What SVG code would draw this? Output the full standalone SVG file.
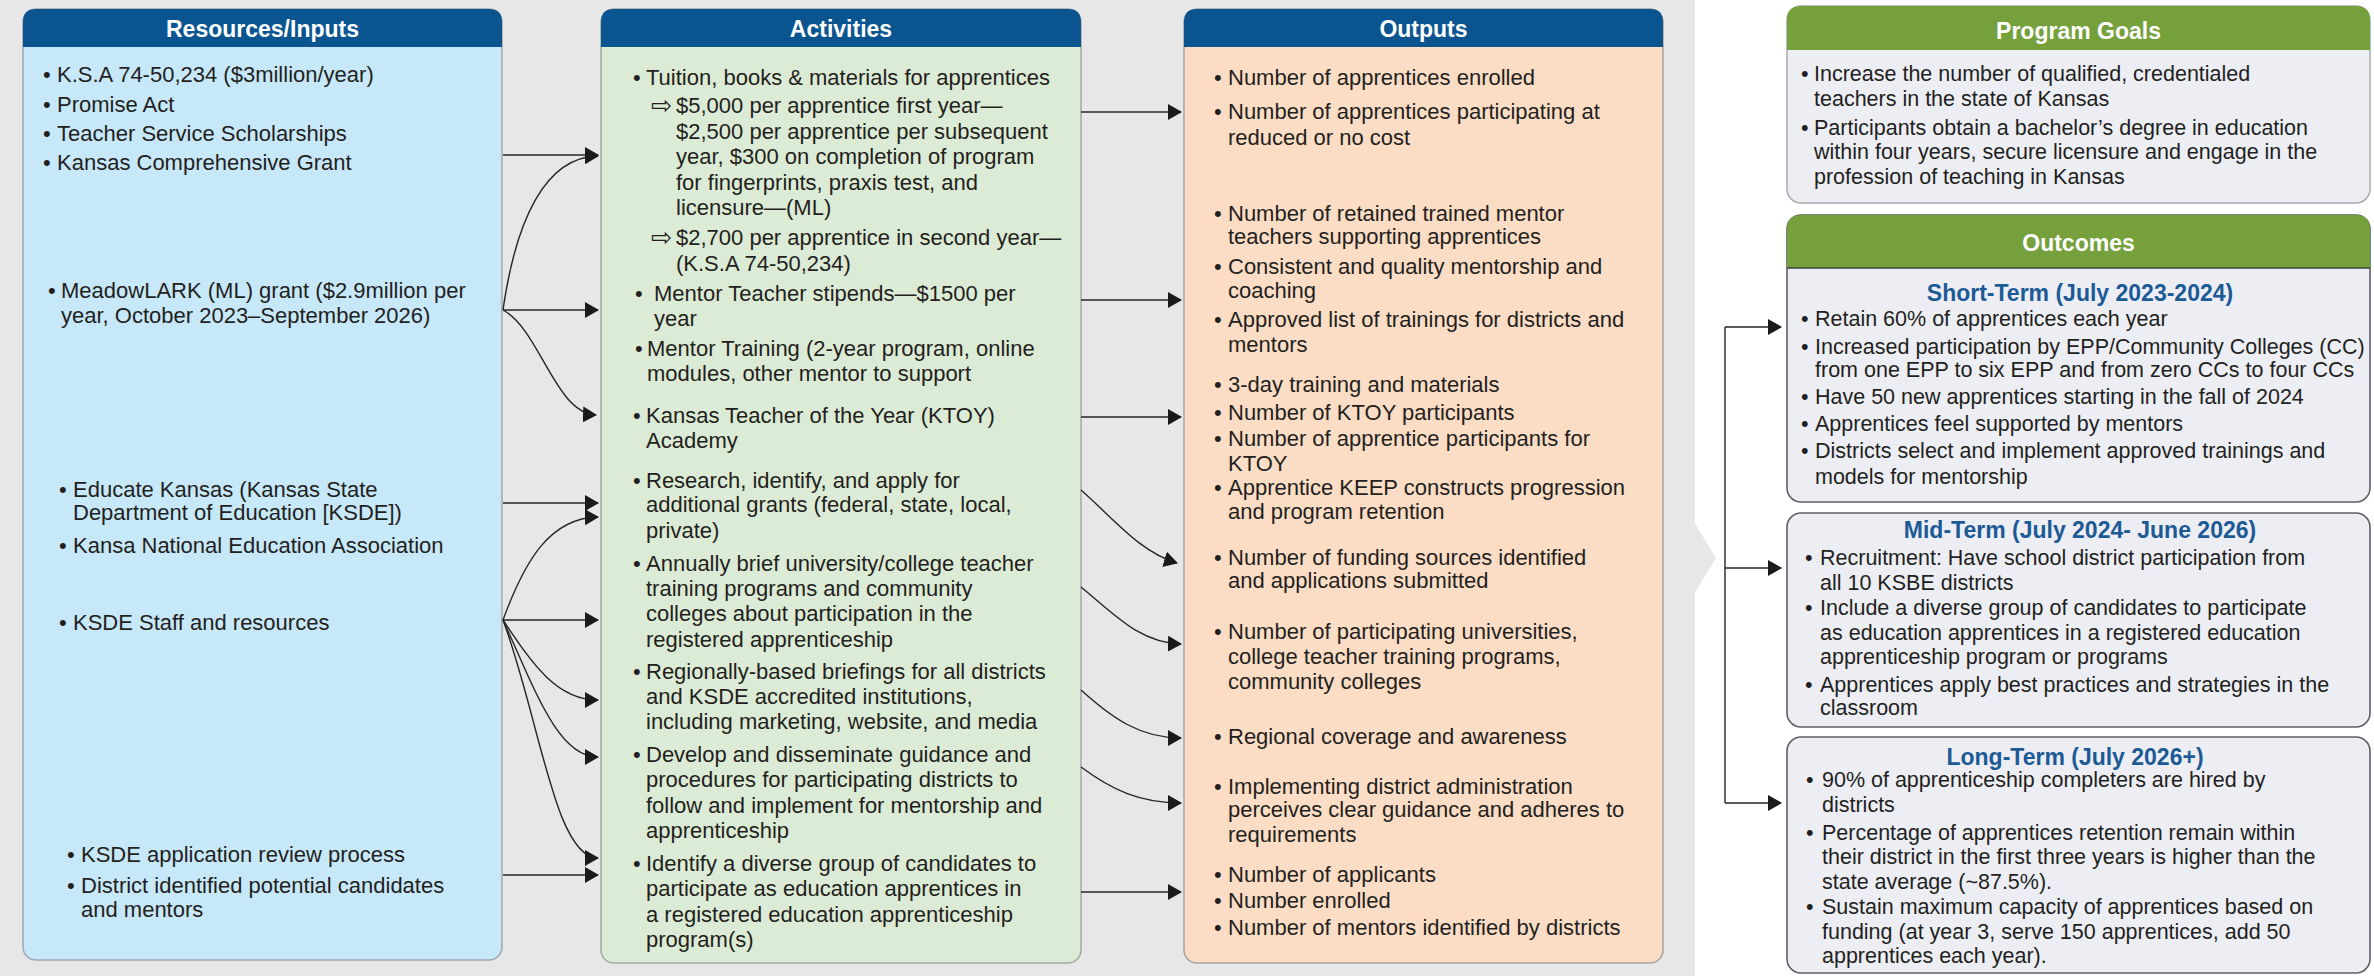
<svg xmlns="http://www.w3.org/2000/svg" width="2374" height="976" viewBox="0 0 2374 976">
  <defs>
    <marker id="ah" viewBox="0 0 14 16" refX="13" refY="8" markerWidth="14" markerHeight="16" markerUnits="userSpaceOnUse" orient="auto">
      <path d="M0,0 L14,8 L0,16 z" fill="#1a1a1a"/>
    </marker>
    <style>
      .t { font-family: "Liberation Sans", Arial, sans-serif; font-size: 22px; fill: #231f20; }
      .r { font-family: "Liberation Sans", Arial, sans-serif; font-size: 21.5px; fill: #231f20; }
      .hd { font-family: "Liberation Sans", Arial, sans-serif; font-size: 23px; font-weight: bold; fill: #ffffff; text-anchor: middle; }
      .sub { font-family: "Liberation Sans", Arial, sans-serif; font-size: 23px; font-weight: bold; fill: #1c5a96; text-anchor: middle; }
      .arr { font-family: "DejaVu Sans", sans-serif; font-size: 25px; fill: #231f20; }
      .blue { fill: #0a5590; }
      .green { fill: #76a03b; }
      .edge { fill: none; stroke: #262626; stroke-width: 1.4; }
      .arrowed { marker-end: url(#ah); }
    </style>
  </defs>

  <!-- backdrop panel behind the first three columns -->
  <rect x="0" y="0" width="2374" height="976" fill="#ffffff"/>
  <rect x="0" y="0" width="1695" height="976" fill="#e7e7e7"/>
  <polygon points="1694,522 1716,558 1694,594" fill="#e7e7e7"/>

  <!-- Resources / Inputs -->
  <g id="resources">
    <rect x="23" y="9" width="479" height="951" rx="13" fill="#c6e8f9" stroke="#9fa8ae" stroke-width="1.5"/>
    <path d="M23,47 V22 Q23,9 36,9 H489 Q502,9 502,22 V47 z" class="blue"/>
    <text x="262.5" y="37" class="hd">Resources/Inputs</text>
    <text class="t">
      <tspan x="43" y="82">•</tspan><tspan x="57" y="82">K.S.A 74-50,234 ($3million/year)</tspan>
      <tspan x="43" y="112">•</tspan><tspan x="57" y="112">Promise Act</tspan>
      <tspan x="43" y="141">•</tspan><tspan x="57" y="141">Teacher Service Scholarships</tspan>
      <tspan x="43" y="170">•</tspan><tspan x="57" y="170">Kansas Comprehensive Grant</tspan>
      <tspan x="48" y="298">•</tspan><tspan x="61" y="298">MeadowLARK (ML) grant ($2.9million per</tspan>
      <tspan x="61" y="323">year, October 2023–September 2026)</tspan>
      <tspan x="59" y="497">•</tspan><tspan x="73" y="497">Educate Kansas (Kansas State</tspan>
      <tspan x="73" y="520">Department of Education [KSDE])</tspan>
      <tspan x="59" y="553">•</tspan><tspan x="73" y="553">Kansa National Education Association</tspan>
      <tspan x="59" y="630">•</tspan><tspan x="73" y="630">KSDE Staff and resources</tspan>
      <tspan x="67" y="862">•</tspan><tspan x="81" y="862">KSDE application review process</tspan>
      <tspan x="67" y="893">•</tspan><tspan x="81" y="893">District identified potential candidates</tspan>
      <tspan x="81" y="917">and mentors</tspan>
    </text>
  </g>

  <!-- Activities -->
  <g id="activities">
    <rect x="601" y="9" width="480" height="954" rx="13" fill="#dcebd5" stroke="#a3aca0" stroke-width="1.5"/>
    <path d="M601,47 V22 Q601,9 614,9 H1068 Q1081,9 1081,22 V47 z" class="blue"/>
    <text x="841" y="37" class="hd">Activities</text>
    <text class="t">
      <tspan x="633" y="85">•</tspan><tspan x="646" y="85">Tuition, books &amp; materials for apprentices</tspan>
      <tspan x="676" y="113">$5,000 per apprentice first year—</tspan>
      <tspan x="676" y="139">$2,500 per apprentice per subsequent</tspan>
      <tspan x="676" y="164">year, $300 on completion of program</tspan>
      <tspan x="676" y="190">for fingerprints, praxis test, and</tspan>
      <tspan x="676" y="215">licensure—(ML)</tspan>
      <tspan x="676" y="245">$2,700 per apprentice in second year—</tspan>
      <tspan x="676" y="271">(K.S.A 74-50,234)</tspan>
      <tspan x="635" y="301">•</tspan><tspan x="654" y="301">Mentor Teacher stipends—$1500 per</tspan>
      <tspan x="654" y="326">year</tspan>
      <tspan x="635" y="356">•</tspan><tspan x="647" y="356">Mentor Training (2-year program, online</tspan>
      <tspan x="647" y="381">modules, other mentor to support</tspan>
      <tspan x="633" y="423">•</tspan><tspan x="646" y="423">Kansas Teacher of the Year (KTOY)</tspan>
      <tspan x="646" y="448">Academy</tspan>
      <tspan x="633" y="488">•</tspan><tspan x="646" y="488">Research, identify, and apply for</tspan>
      <tspan x="646" y="512">additional grants (federal, state, local,</tspan>
      <tspan x="646" y="538">private)</tspan>
      <tspan x="633" y="571">•</tspan><tspan x="646" y="571">Annually brief university/college teacher</tspan>
      <tspan x="646" y="596">training programs and community</tspan>
      <tspan x="646" y="621">colleges about participation in the</tspan>
      <tspan x="646" y="647">registered apprenticeship</tspan>
      <tspan x="633" y="679">•</tspan><tspan x="646" y="679">Regionally-based briefings for all districts</tspan>
      <tspan x="646" y="704">and KSDE accredited institutions,</tspan>
      <tspan x="646" y="729">including marketing, website, and media</tspan>
      <tspan x="633" y="762">•</tspan><tspan x="646" y="762">Develop and disseminate guidance and</tspan>
      <tspan x="646" y="787">procedures for participating districts to</tspan>
      <tspan x="646" y="813">follow and implement for mentorship and</tspan>
      <tspan x="646" y="838">apprenticeship</tspan>
      <tspan x="633" y="871">•</tspan><tspan x="646" y="871">Identify a diverse group of candidates to</tspan>
      <tspan x="646" y="896">participate as education apprentices in</tspan>
      <tspan x="646" y="922">a registered education apprenticeship</tspan>
      <tspan x="646" y="947">program(s)</tspan>
    </text>
    <text class="arr">
      <tspan x="651" y="114">⇨</tspan>
      <tspan x="651" y="246">⇨</tspan>
    </text>
  </g>

  <!-- Outputs -->
  <g id="outputs">
    <rect x="1184" y="9" width="479" height="954" rx="13" fill="#fbdcc4" stroke="#aaa39d" stroke-width="1.5"/>
    <path d="M1184,47 V22 Q1184,9 1197,9 H1650 Q1663,9 1663,22 V47 z" class="blue"/>
    <text x="1423.5" y="37" class="hd">Outputs</text>
    <text class="t">
      <tspan x="1214" y="85">•</tspan><tspan x="1228" y="85">Number of apprentices enrolled</tspan>
      <tspan x="1214" y="119">•</tspan><tspan x="1228" y="119">Number of apprentices participating at</tspan>
      <tspan x="1228" y="145">reduced or no cost</tspan>
      <tspan x="1214" y="221">•</tspan><tspan x="1228" y="221">Number of retained trained mentor</tspan>
      <tspan x="1228" y="244">teachers supporting apprentices</tspan>
      <tspan x="1214" y="274">•</tspan><tspan x="1228" y="274">Consistent and quality mentorship and</tspan>
      <tspan x="1228" y="298">coaching</tspan>
      <tspan x="1214" y="327">•</tspan><tspan x="1228" y="327">Approved list of trainings for districts and</tspan>
      <tspan x="1228" y="352">mentors</tspan>
      <tspan x="1214" y="392">•</tspan><tspan x="1228" y="392">3-day training and materials</tspan>
      <tspan x="1214" y="420">•</tspan><tspan x="1228" y="420">Number of KTOY participants</tspan>
      <tspan x="1214" y="446">•</tspan><tspan x="1228" y="446">Number of apprentice participants for</tspan>
      <tspan x="1228" y="471">KTOY</tspan>
      <tspan x="1214" y="495">•</tspan><tspan x="1228" y="495">Apprentice KEEP constructs progression</tspan>
      <tspan x="1228" y="519">and program retention</tspan>
      <tspan x="1214" y="565">•</tspan><tspan x="1228" y="565">Number of funding sources identified</tspan>
      <tspan x="1228" y="588">and applications submitted</tspan>
      <tspan x="1214" y="639">•</tspan><tspan x="1228" y="639">Number of participating universities,</tspan>
      <tspan x="1228" y="664">college teacher training programs,</tspan>
      <tspan x="1228" y="689">community colleges</tspan>
      <tspan x="1214" y="744">•</tspan><tspan x="1228" y="744">Regional coverage and awareness</tspan>
      <tspan x="1214" y="794">•</tspan><tspan x="1228" y="794">Implementing district administration</tspan>
      <tspan x="1228" y="817">perceives clear guidance and adheres to</tspan>
      <tspan x="1228" y="842">requirements</tspan>
      <tspan x="1214" y="882">•</tspan><tspan x="1228" y="882">Number of applicants</tspan>
      <tspan x="1214" y="908">•</tspan><tspan x="1228" y="908">Number enrolled</tspan>
      <tspan x="1214" y="935">•</tspan><tspan x="1228" y="935">Number of mentors identified by districts</tspan>
    </text>
  </g>

  <!-- Program Goals -->
  <g id="program-goals">
    <rect x="1787" y="6" width="583" height="197" rx="14" fill="#eceef4" stroke="#a9abb0" stroke-width="1.5"/>
    <path d="M1787,50 V20 Q1787,6 1801,6 H2356 Q2370,6 2370,20 V50 z" class="green"/>
    <text x="2078.5" y="39" class="hd">Program Goals</text>
    <text class="r">
      <tspan x="1801" y="81">•</tspan><tspan x="1814" y="81">Increase the number of qualified, credentialed</tspan>
      <tspan x="1814" y="106">teachers in the state of Kansas</tspan>
      <tspan x="1801" y="135">•</tspan><tspan x="1814" y="135">Participants obtain a bachelor’s degree in education</tspan>
      <tspan x="1814" y="159">within four years, secure licensure and engage in the</tspan>
      <tspan x="1814" y="184">profession of teaching in Kansas</tspan>
    </text>
  </g>

  <!-- Outcomes header and short-term block -->
  <g id="outcomes-short">
    <rect x="1787" y="215" width="583" height="287" rx="14" fill="#eceef4" stroke="#5e6066" stroke-width="1.6"/>
    <path d="M1787,268 V229 Q1787,215 1801,215 H2356 Q2370,215 2370,229 V268 z" class="green"/>
    <line x1="1787" y1="268" x2="2370" y2="268" stroke="#3c3c3c" stroke-width="1.6"/>
    <text x="2078.5" y="251" class="hd">Outcomes</text>
    <text x="2080" y="301" class="sub">Short-Term (July 2023-2024)</text>
    <text class="r">
      <tspan x="1801" y="326">•</tspan><tspan x="1815" y="326">Retain 60% of apprentices each year</tspan>
      <tspan x="1801" y="354">•</tspan><tspan x="1815" y="354">Increased participation by EPP/Community Colleges (CC)</tspan>
      <tspan x="1815" y="377">from one EPP to six EPP and from zero CCs to four CCs</tspan>
      <tspan x="1801" y="404">•</tspan><tspan x="1815" y="404">Have 50 new apprentices starting in the fall of 2024</tspan>
      <tspan x="1801" y="431">•</tspan><tspan x="1815" y="431">Apprentices feel supported by mentors</tspan>
      <tspan x="1801" y="458">•</tspan><tspan x="1815" y="458">Districts select and implement approved trainings and</tspan>
      <tspan x="1815" y="484">models for mentorship</tspan>
    </text>
  </g>

  <!-- Mid-term block -->
  <g id="outcomes-mid">
    <rect x="1787" y="513" width="583" height="214" rx="14" fill="#eceef4" stroke="#5e6066" stroke-width="1.6"/>
    <text x="2080" y="538" class="sub">Mid-Term (July 2024- June 2026)</text>
    <text class="r">
      <tspan x="1805" y="565">•</tspan><tspan x="1820" y="565">Recruitment: Have school district participation from</tspan>
      <tspan x="1820" y="590">all 10 KSBE districts</tspan>
      <tspan x="1805" y="615">•</tspan><tspan x="1820" y="615">Include a diverse group of candidates to participate</tspan>
      <tspan x="1820" y="640">as education apprentices in a registered education</tspan>
      <tspan x="1820" y="664">apprenticeship program or programs</tspan>
      <tspan x="1805" y="692">•</tspan><tspan x="1820" y="692">Apprentices apply best practices and strategies in the</tspan>
      <tspan x="1820" y="715">classroom</tspan>
    </text>
  </g>

  <!-- Long-term block -->
  <g id="outcomes-long">
    <rect x="1787" y="737" width="583" height="236" rx="14" fill="#eceef4" stroke="#5e6066" stroke-width="1.6"/>
    <text x="2075" y="765" class="sub">Long-Term (July 2026+)</text>
    <text class="r">
      <tspan x="1806" y="787">•</tspan><tspan x="1822" y="787">90% of apprenticeship completers are hired by</tspan>
      <tspan x="1822" y="812">districts</tspan>
      <tspan x="1806" y="840">•</tspan><tspan x="1822" y="840">Percentage of apprentices retention remain within</tspan>
      <tspan x="1822" y="864">their district in the first three years is higher than the</tspan>
      <tspan x="1822" y="889">state average (~87.5%).</tspan>
      <tspan x="1806" y="914">•</tspan><tspan x="1822" y="914">Sustain maximum capacity of apprentices based on</tspan>
      <tspan x="1822" y="939">funding (at year 3, serve 150 apprentices, add 50</tspan>
      <tspan x="1822" y="963">apprentices each year).</tspan>
    </text>
  </g>

  <!-- Connectors -->
  <g id="connectors">
    <!-- inputs to activities -->
    <path class="edge arrowed" d="M503,155 H598"/>
    <path class="edge arrowed" d="M503,310 C516,220 545,157 598,156"/>
    <path class="edge arrowed" d="M503,310 H598"/>
    <path class="edge arrowed" d="M503,310 C540,330 555,413 596,415"/>
    <path class="edge arrowed" d="M503,503 H598"/>
    <path class="edge arrowed" d="M503,620 C525,560 550,518 598,517"/>
    <path class="edge arrowed" d="M503,620 H598"/>
    <path class="edge arrowed" d="M503,620 C530,660 555,700 598,700"/>
    <path class="edge arrowed" d="M503,620 C535,690 558,757 598,757"/>
    <path class="edge arrowed" d="M503,620 C540,720 555,858 598,858"/>
    <path class="edge arrowed" d="M503,875 H598"/>
    <!-- activities to outputs -->
    <path class="edge arrowed" d="M1081,112 H1181"/>
    <path class="edge arrowed" d="M1081,300 H1181"/>
    <path class="edge arrowed" d="M1081,417 H1181"/>
    <path class="edge arrowed" d="M1081,490 C1115,520 1140,552 1177,563"/>
    <path class="edge arrowed" d="M1081,587 C1115,615 1140,643 1181,644"/>
    <path class="edge arrowed" d="M1081,690 C1112,718 1140,738 1181,738"/>
    <path class="edge arrowed" d="M1081,767 C1112,790 1140,803 1181,803"/>
    <path class="edge arrowed" d="M1081,892 H1181"/>
    <!-- bracket into outcome blocks -->
    <path class="edge" d="M1725,327 V803"/>
    <path class="edge arrowed" d="M1725,327 H1781"/>
    <path class="edge arrowed" d="M1725,568 H1781"/>
    <path class="edge arrowed" d="M1725,803 H1781"/>
  </g>
</svg>
